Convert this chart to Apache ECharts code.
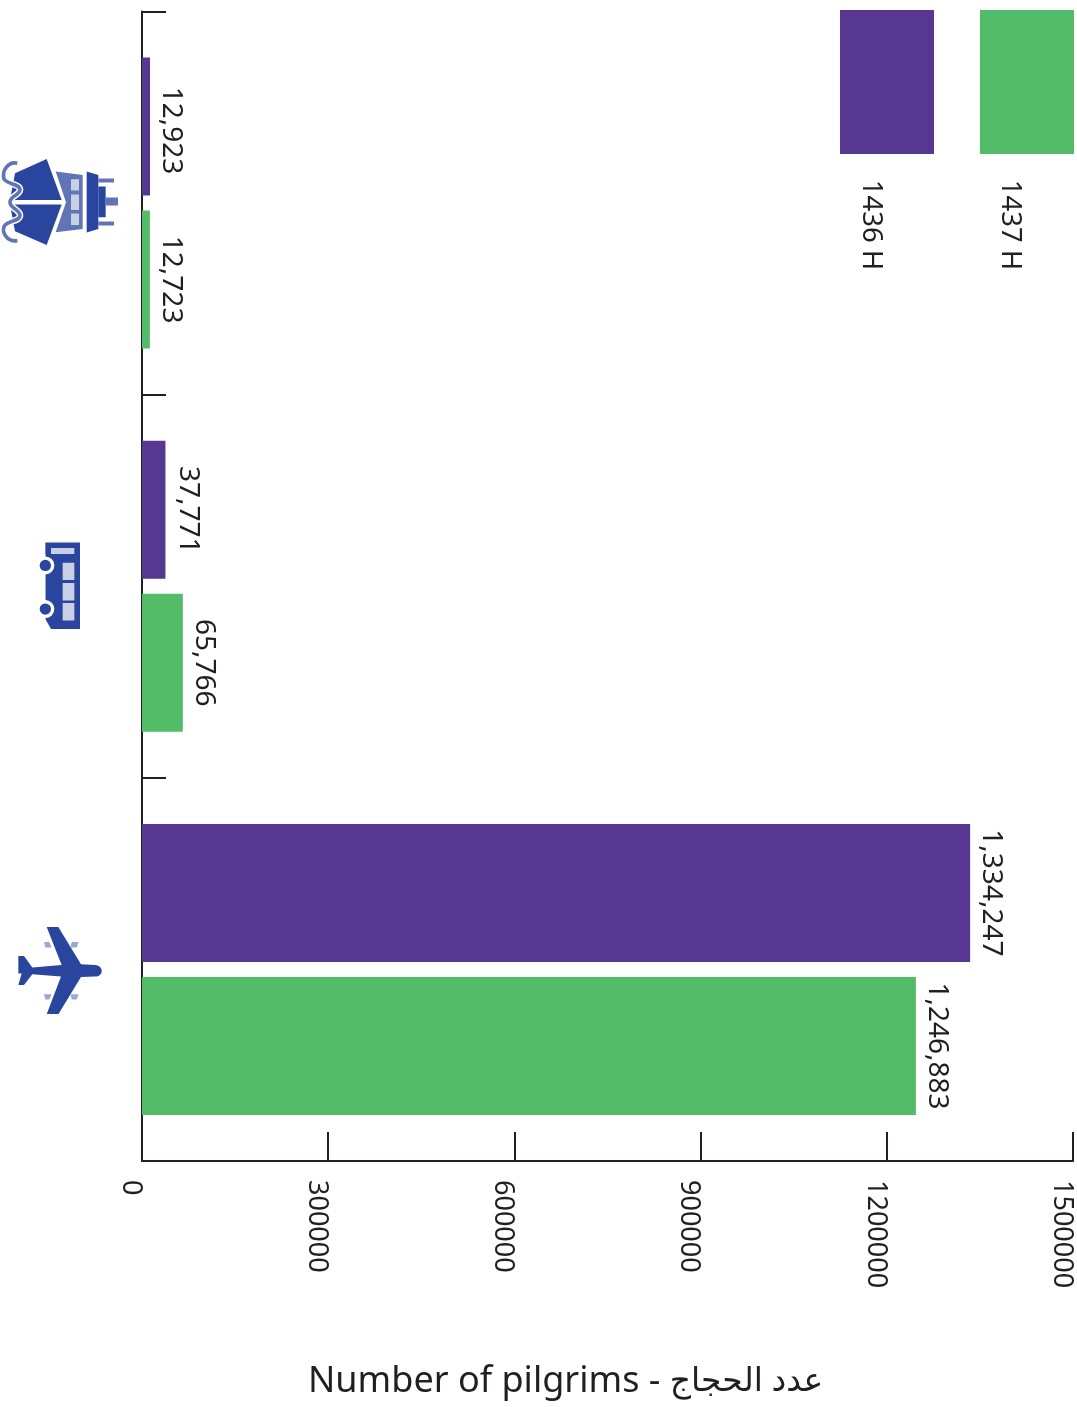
<!DOCTYPE html>
<html>
<head>
<meta charset="utf-8">
<style>
html, body { margin: 0; padding: 0; background: #fff; }
#main { width: 1077px; height: 1407px; }
</style>
<script src="https://cdn.jsdelivr.net/npm/echarts@6/dist/echarts.min.js"></script>
</head>
<body>
<div id="main"></div>
<script>
var categories = ['Air', 'Land', 'Sea'];
var values1436 = [1334247, 37771, 12923];
var values1437 = [1246883, 65766, 12723];
var valueTicks = [0, 300000, 600000, 900000, 1200000, 1500000];
var seriesNames = ['1436 H', '1437 H'];
var axisTitleLatin = 'Number of pilgrims - ';
var axisTitleArabic = 'عدد الحجاج';

var INK = '#231f20';
var FONT = '"Noto Sans", "DejaVu Sans", sans-serif';
var DARK = '#2a459d', MID = '#6174b6', PALE = '#c9d0e6', SOFT = '#9aa8d8';

// icons are drawn sideways in the picture, coordinates are at 3x
function svgIcon(viewY, body) {
    var svg = '<svg xmlns="http://www.w3.org/2000/svg" width="120" height="90" viewBox="0 ' + viewY + ' 360 270">' + body + '</svg>';
    return 'data:image/svg+xml;charset=utf-8,' + encodeURIComponent(svg);
}

var planeIcon = svgIcon(40.5,
    '<g fill="' + SOFT + '">' +
    '<path d="M132 93H148L155 110H136Z"/><path d="M215 93H236L230 110H212Z"/>' +
    '<path d="M132 250H155L148 266H136Z"/><path d="M212 250H236L230 266H215Z"/></g>' +
    '<path fill="' + DARK + '" d="M55 172V135H72L97 170L185 162L140 48H175L243 160L285 162C312 164 312 196 285 197' +
    'L243 198L175 310H140L183 197L97 190L72 222H55L65 188H55Z"/>');

var busIcon = svgIcon(61.5,
    '<path fill="' + DARK + '" d="M136 65H240V325H153L136 295Z"/>' +
    '<circle cx="136" cy="134" r="27" fill="#fff"/><circle cx="136" cy="265" r="27" fill="#fff"/>' +
    '<path fill="#fff" d="M100 100H136V300H100Z"/>' +
    '<circle cx="136" cy="134" r="17" fill="' + DARK + '"/><circle cx="136" cy="265" r="17" fill="' + DARK + '"/>' +
    '<g fill="' + PALE + '"><rect x="153" y="82" width="70" height="18"/><rect x="188" y="126" width="35" height="52"/>' +
    '<rect x="188" y="187" width="35" height="52"/><rect x="188" y="247" width="35" height="52"/></g>');

var wavePath = 'M52 68C25 62 5 90 12 115C18 130 60 130 60 147C60 165 30 165 30 185C30 205 60 205 60 225C60 243 18 240 12 258C5 280 25 305 52 300';
var shipIcon = svgIcon(52.5,
    '<g fill="' + DARK + '"><path d="M45 98L140 55L185 178H30Z"/><path d="M30 192H185L140 313L45 272Z"/></g>' +
    '<path fill="none" stroke="#fff" stroke-width="20" d="' + wavePath + '"/>' +
    '<path fill="none" stroke="' + MID + '" stroke-width="11" d="' + wavePath + '"/>' +
    '<path fill="' + MID + '" d="M167 93L248 103V265L167 275L198 185Z"/>' +
    '<g fill="' + PALE + '"><rect x="213" y="116" width="24" height="34"/><rect x="213" y="162" width="24" height="46"/><rect x="213" y="219" width="24" height="34"/></g>' +
    '<path fill="' + DARK + '" d="M260 93L295 103V265L260 276Z"/><rect x="295" y="138" width="22" height="92" fill="' + DARK + '"/>' +
    '<g fill="' + MID + '"><rect x="317" y="171" width="37" height="24"/><rect x="295" y="114" width="47" height="12"/><rect x="295" y="243" width="47" height="12"/></g>');

function withCommas(p) {
    return p.value.toLocaleString('en-US');
}

function barLabel() {
    return {
        show: true,
        position: 'right',
        distance: 7,
        rotate: -90,
        align: 'center',
        verticalAlign: 'bottom',
        color: INK,
        fontFamily: FONT,
        fontSize: 28,
        formatter: withCommas
    };
}

var myChart = echarts.init(document.getElementById('main'));

var option = {
    animation: false,
    backgroundColor: '#fff',
    title: {
        text: '{a|' + axisTitleLatin + '}{b|' + axisTitleArabic + '}',
        left: 303,
        top: 1359,
        textStyle: {
            fontWeight: 'normal',
            rich: {
                a: { color: INK, fontFamily: FONT, fontSize: 36, fontWeight: 'normal' },
                b: { color: INK, fontFamily: FONT, fontSize: 33, fontWeight: 'normal' }
            }
        }
    },
    legend: {
        left: 840,
        top: 10,
        padding: 0,
        icon: 'rect',
        itemWidth: 94,
        itemHeight: 144,
        itemGap: 46,
        data: seriesNames,
        formatter: function () { return ''; },
        selectedMode: false
    },
    graphic: [
        {
            type: 'text', x: 871, y: 225, rotation: -Math.PI / 2,
            style: { text: seriesNames[0], fill: INK, font: '27.5px ' + FONT, textAlign: 'center', textVerticalAlign: 'middle' }
        },
        {
            type: 'text', x: 1010, y: 225, rotation: -Math.PI / 2,
            style: { text: seriesNames[1], fill: INK, font: '27.5px ' + FONT, textAlign: 'center', textVerticalAlign: 'middle' }
        }
    ],
    grid: { left: 142, right: 4, top: 11.5, bottom: 246, outerBoundsMode: 'none' },
    xAxis: {
        type: 'value',
        min: valueTicks[0],
        max: valueTicks[valueTicks.length - 1],
        interval: valueTicks[1],
        splitLine: { show: false },
        axisLine: { show: true, lineStyle: { color: INK, width: 2 } },
        axisTick: { show: true, inside: true, length: 29, lineStyle: { color: INK, width: 2 } },
        axisLabel: {
            rotate: -90,
            align: 'left',
            verticalAlign: 'top',
            lineHeight: 23,
            margin: 19,
            color: INK,
            fontFamily: FONT,
            fontSize: 27,
            showMinLabel: true,
            showMaxLabel: true,
            formatter: function (v) { return String(v); }
        }
    },
    yAxis: {
        type: 'category',
        data: categories,
        axisLine: { show: true, lineStyle: { color: INK, width: 2 } },
        axisTick: { show: true, inside: true, length: 24, lineStyle: { color: INK, width: 2 } },
        axisLabel: {
            margin: 22,
            formatter: function (v) { return '{' + v + '|}'; },
            rich: {
                Air: { width: 120, height: 90, backgroundColor: { image: planeIcon } },
                Land: { width: 120, height: 90, backgroundColor: { image: busIcon } },
                Sea: { width: 120, height: 90, backgroundColor: { image: shipIcon } }
            }
        }
    },
    series: [
        {
            name: seriesNames[0],
            type: 'bar',
            data: values1436,
            barWidth: 138,
            barGap: '10.9%',
            itemStyle: { color: '#563893' },
            label: barLabel(),
            // label offsets are in the text's own rotated frame
            labelLayout: function (p) {
                if (p.dataIndex === 2) return { dx: 4 };
                if (p.dataIndex === 1) return { dy: -2 };
                return {};
            }
        },
        {
            name: seriesNames[1],
            type: 'bar',
            data: values1437,
            barWidth: 138,
            barGap: '10.9%',
            itemStyle: { color: '#53bc69' },
            label: barLabel()
        }
    ]
};

myChart.setOption(option);
</script>
</body>
</html>
